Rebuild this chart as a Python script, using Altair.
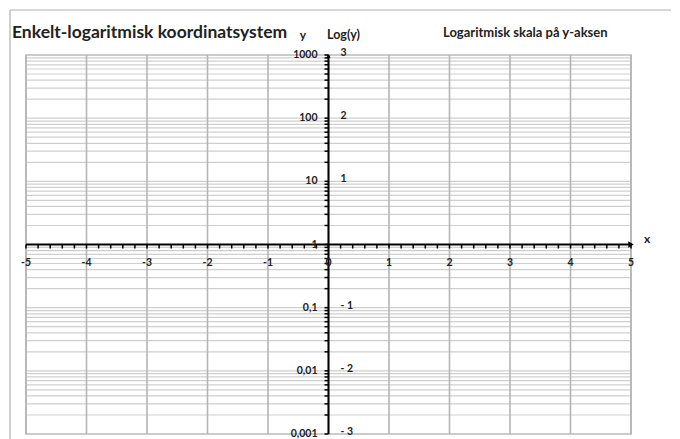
import altair as alt
import pandas as pd

# ---- data ----
x_values = [-5, -4, -3, -2, -1, 0, 1, 2, 3, 4, 5]
x_labels = ["-5", "-4", "-3", "-2", "-1", "0", "1", "2", "3", "4", "5"]
x_minor = [-5 + i / 5 for i in range(51)]  # ticks every 0.2
decades = [0.001, 0.01, 0.1, 1, 10, 100, 1000]
y_labels = ["0,001", "0,01", "0,1", "1", "10", "100", "1000"]
log_labels = ["- 3", "- 2", "- 1", "", "1", "2", "3"]
multipliers = [1, 2, 3, 4, 5, 6, 7, 8, 9]

y_minor = [m * d for d in decades[:-1] for m in multipliers] + [1000]

FONT = "Lato"
W, H = 605, 379

xs = alt.Scale(domain=[-5, 5], nice=False, zero=False)
ys = alt.Scale(type="log", domain=[0.001, 1000], nice=False)

df_x = pd.DataFrame({"x": x_values, "lab": x_labels, "y": [1] * len(x_values)})
df_xm = pd.DataFrame({"x": x_minor, "y": [1] * len(x_minor)})
df_y = pd.DataFrame({"y": decades, "lab": y_labels, "log": log_labels, "x": [0] * len(decades)})
df_ym = pd.DataFrame({"y": y_minor, "x": [0] * len(y_minor)})
df_xaxis = pd.DataFrame({"x": [-5], "x2": [5], "y": [1]})
df_yaxis = pd.DataFrame({"x": [0], "y": [0.001], "y2": [1000]})
df_arrow = pd.DataFrame({"x": [5], "y": [1]})
df_arrow_up = pd.DataFrame({"x": [0], "y": [1000]})

X = lambda f="x": alt.X(f"{f}:Q", scale=xs, axis=None)
Y = lambda f="y": alt.Y(f"{f}:Q", scale=ys, axis=None)

hgrid = alt.Chart(df_ym).mark_rule(color="#cfcfcf", strokeWidth=1.2).encode(y=Y())
vgrid = alt.Chart(df_x).mark_rule(color="#b5b5b5", strokeWidth=1.6).encode(x=X())

xaxis = alt.Chart(df_xaxis).mark_rule(color="black", strokeWidth=2).encode(
    x=X(), x2="x2:Q", y=Y()
)
yaxis = alt.Chart(df_yaxis).mark_rule(color="black", strokeWidth=2).encode(
    x=X(), y=Y(), y2="y2:Q"
)

xticks = alt.Chart(df_xm).mark_rule(color="black", strokeWidth=1.5, y2Offset=4).encode(
    x=X(), y=Y(), y2="y:Q"
)
yticks = alt.Chart(df_ym).mark_rule(color="black", strokeWidth=1.5, x2Offset=-4).encode(
    y=Y(), x=X(), x2="x:Q"
)

arrow = alt.Chart(df_arrow).mark_point(
    shape="triangle-right", filled=True, color="black", size=40, opacity=1
).encode(x=X(), y=Y())
arrow_up = alt.Chart(df_arrow_up).mark_point(
    shape="triangle-up", filled=True, color="black", size=18, opacity=1, yOffset=1
).encode(x=X(), y=Y())

xlab = alt.Chart(df_x).mark_text(
    font=FONT, fontWeight="bold", fontSize=10.5, dy=18, color="#222"
).encode(x=X(), y=Y(), text="lab:N")

ylab = alt.Chart(df_y).mark_text(
    font=FONT, fontWeight="bold", fontSize=10.5, align="right", dx=-11, color="#222"
).encode(y=Y(), x=X(), text="lab:N")

loglab = alt.Chart(df_y).mark_text(
    font=FONT, fontWeight="bold", fontSize=10.5, align="left", dx=12, dy=-2, color="#222"
).encode(y=Y(), x=X(), text="log:N")

annot_text = ["Enkelt-logaritmisk koordinatsystem", "y", "Log(y)",
              "Logaritmisk skala på y-aksen", "x"]
annot = pd.DataFrame({"t": annot_text})

def txt(i, px, py, size, align="left"):
    return alt.Chart(annot.iloc[[i]]).mark_text(
        font=FONT, fontWeight="bold", fontSize=size, align=align, color="#222"
    ).encode(x=alt.value(px), y=alt.value(py), text="t:N")

title = txt(0, -14, -22, 17.5)
ylbl = txt(1, 277, -20, 12, "center")
loglbl = txt(2, 301, -20, 12.5)
subt = txt(3, 417, -22, 13)
xlbl = txt(4, 621, 184, 12, "center")

frame_top = alt.Chart(annot.iloc[[0]]).mark_rule(color="#b0b0b0", strokeWidth=1.2).encode(
    x=alt.value(-16), x2=alt.value(660), y=alt.value(-45)
)
frame_left = alt.Chart(annot.iloc[[0]]).mark_rule(color="#b0b0b0", strokeWidth=1.2).encode(
    x=alt.value(-16), y=alt.value(-45), y2=alt.value(400)
)

chart = alt.layer(
    frame_top, frame_left, hgrid, vgrid, xaxis, yaxis, xticks, yticks, arrow, arrow_up,
    xlab, ylab, loglab, title, ylbl, loglbl, subt, xlbl
).properties(
    width=W, height=H,
    autosize=alt.AutoSizeParams(type="none"),
    padding={"left": 18, "top": 47, "right": 40, "bottom": 5},
).configure_view(stroke="#b5b5b5", strokeWidth=1.5)

chart.save("out.html", embed_options={"renderer": "svg", "actions": False})
